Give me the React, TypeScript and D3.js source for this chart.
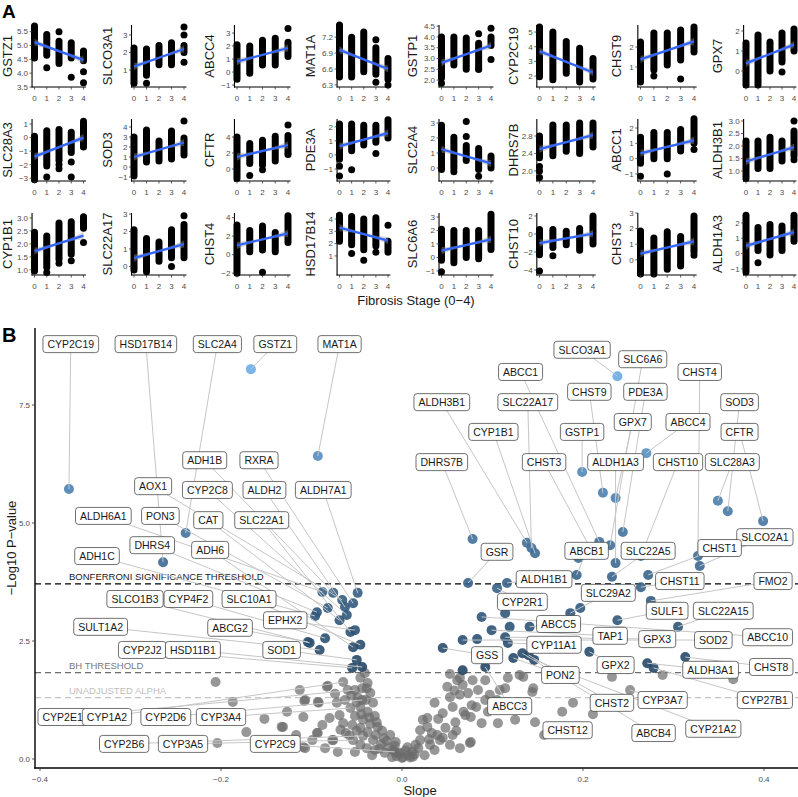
import React, { useEffect, useRef } from "react";
import * as d3 from "d3";

const W = 798, H = 797;
const FONT = "'Liberation Sans', Arial, Helvetica, sans-serif";

// ---------- Panel A data ----------
const stages = [0, 1, 2, 3, 4];
const panelGenes = ["GSTZ1","SLCO3A1","ABCC4","MAT1A","GSTP1","CYP2C19","CHST9","GPX7",
  "SLC28A3","SOD3","CFTR","PDE3A","SLC2A4","DHRS7B","ABCC1","ALDH3B1",
  "CYP1B1","SLC22A17","CHST4","HSD17B14","SLC6A6","CHST10","CHST3","ALDH1A3"];
const panelDomains: [number, number][] = [
  [3.5,5.74],[0.03,3.57],[-1.15,3.62],[6.26,7.43],[1.68,4.55],[1.26,5.48],[0.0,3.1],[-0.8,2.3],
  [-3.2,1.37],[-1.4,4.8],[-1.5,6.25],[-1.85,2.55],[-0.87,3.27],[1.77,3.19],[-1.46,2.59],[0.6,3.08],
  [0.8,3.19],[-0.49,3.06],[-2.2,4.5],[-0.55,4.49],[-1.3,3.3],[-4.55,2.33],[-0.97,3.0],[-1.4,2.65]];
const panelTicks: number[][] = [
  [3.5,4,4.5,5,5.5],[1,2,3],[-1,0,1,2,3],[6.3,6.6,6.9,7.2],[2,2.5,3,3.5,4,4.5],[2,3,4,5],[1,2],[0,1,2],
  [-3,-2,-1,0,1],[-1,0,1,2,3,4],[0,2,4],[-1,0,1,2],[0,1,2,3],[2.0,2.4,2.8],[-1,0,1,2],[1,1.5,2,2.5,3],
  [1,1.5,2,2.5,3],[0,1,2,3],[-2,0,2,4],[1,2,3,4],[-1,0,1,2,3],[-4,-2,0,2],[0,1,2,3],[-1,0,1,2]];
const panelRanges: [number, number][][] = [
  [[4.55,5.7],[4.65,5.4],[4.35,5.15],[4.55,5.1],[4.45,4.8]],
  [[0.25,2.25],[0.7,2.2],[1.3,2.4],[1.3,2.55],[2.0,2.4]],
  [[-0.55,2.1],[-0.1,2.0],[0.55,2.45],[0.55,2.6],[1.2,2.3]],
  [[6.45,7.43],[6.45,7.2],[6.55,7.3],[6.5,7.0],[6.4,6.8]],
  [[2.1,4.0],[2.7,4.0],[2.5,3.95],[2.5,3.7],[3.6,4.0]],
  [[1.95,5.35],[1.75,5.0],[2.2,4.35],[1.6,3.9],[1.8,3.2]],
  [[0.25,2.25],[0.85,2.7],[1.1,2.7],[1.35,2.85],[1.75,3.0]],
  [[-0.7,1.4],[-0.7,1.8],[0.0,1.45],[0.45,1.9],[1.0,2.1]],
  [[-3.1,0.1],[-2.1,0.5],[-1.7,0.6],[-1.1,0.4],[-0.7,1.2]],
  [[-0.9,3.0],[0.5,3.7],[0.6,2.6],[0.8,3.6],[1.2,2.9]],
  [[-1.2,4.0],[0.7,3.2],[0.5,3.6],[1.0,4.1],[2.0,4.2]],
  [[-0.3,2.2],[0.3,2.2],[0.7,2.1],[0.9,2.1],[1.2,2.5]],
  [[-0.1,2.85],[-0.05,2.05],[0.5,1.5],[-0.1,1.3],[0.0,0.8]],
  [[2.3,2.8],[2.35,3.05],[2.45,3.05],[2.4,3.1],[2.55,3.1]],
  [[-0.3,1.4],[0.0,1.7],[0.0,1.7],[0.5,1.9],[1.0,2.6]],
  [[0.7,2.2],[1.1,2.2],[1.1,2.35],[1.4,2.2],[1.6,2.6]],
  [[0.95,2.45],[1.1,2.3],[1.4,2.8],[1.6,2.85],[2.6,3.05]],
  [[-0.2,2.1],[-0.3,1.6],[0.3,1.4],[0.5,2.1],[0.5,2.4]],
  [[-2.0,3.2],[0.3,2.6],[0.5,3.1],[0.3,2.4],[1.3,4.2]],
  [[2.2,4.3],[1.9,4.2],[1.5,4.0],[1.8,4.1],[1.3,2.2]],
  [[-0.2,2.1],[-0.4,2.0],[0.0,2.0],[-0.1,2.0],[0.6,3.2]],
  [[-2.3,0.5],[-1.5,0.5],[-1.2,0.3],[-1.8,0.6],[-1.1,2.0]],
  [[-0.9,1.85],[-0.9,1.4],[-0.6,1.8],[-0.3,1.5],[0.5,2.8]],
  [[-1.2,2.5],[0.2,1.7],[-0.1,1.9],[0.2,1.8],[0.8,2.5]]];
const panelExtras: [number, number][][] = [
  [[1,4.2],[2,5.5],[3,3.85],[4,4.05],[4,3.65]],
  [[1,0.25],[4,3.45],[4,3.0],[4,1.45]],
  [[4,3.35]],
  [[3,7.15],[3,6.35],[4,6.3]],
  [[0,1.85],[3,4.15],[3,2.5],[4,4.4],[4,2.95]],
  [],
  [[1,0.55],[3,0.4]],
  [[3,-0.05]],
  [[1,-2.9],[2,-2.0],[2,-2.3],[3,-1.8],[3,-2.9],[4,-0.6]],
  [[4,4.6]],
  [[1,-0.8],[2,-0.1],[4,5.5],[4,1.8]],
  [[0,-0.8],[0,-1.5],[1,-1.05],[3,0.1]],
  [[1,-0.25],[2,3.1],[2,2.1],[3,-0.55]],
  [[0,2.1],[0,1.85],[0,2.0]],
  [[0,-1.15],[2,-1.0],[4,0.6]],
  [[4,3.0],[4,1.45]],
  [[1,0.9],[2,1.25],[3,1.35],[4,2.05]],
  [[3,0.0],[4,2.9]],
  [[2,-1.9]],
  [[1,1.2],[2,0.65],[3,1.3],[4,3.5]],
  [[0,-1.05]],
  [[0,-4.1],[1,-2.4]],
  [[3,-0.4],[4,0.3]],
  [[1,-0.6]]];
const panelFits: [number, number][] = [
  [5.12,4.47],[1.2,2.2],[0.8,1.85],[6.96,6.6],[2.8,3.6],[3.7,2.25],[1.38,2.28],[0.38,1.32],
  [-1.4,0.0],[1.0,2.45],[1.5,3.0],[0.62,1.55],[1.25,0.3],[2.5,2.82],[0.35,1.2],[1.38,1.95],
  [1.72,2.32],[0.48,1.28],[1.0,2.3],[3.3,2.25],[0.5,1.35],[-1.0,0.05],[0.4,1.18],[0.5,1.4]];

// ---------- Panel B data ----------
const bonferroni = 3.71;
const bhThreshold = 1.83;
const unadjustedAlpha = 1.301;
const xTicksB = [-0.4, -0.2, 0, 0.2, 0.4];
const yTicksB = [0, 2.5, 5, 7.5];

const grayPoints: [number, number][] = [
  [-0.041,1.82],[-0.046,1.72],[-0.038,1.61],[-0.044,1.50],[-0.035,1.40],[-0.049,1.31],[-0.040,1.25],
  [-0.032,1.19],[-0.046,1.10],[-0.038,1.00],[-0.030,0.91],[-0.052,0.91],[-0.043,0.83],[-0.035,0.74],
  [-0.027,0.68],[-0.046,0.66],[-0.038,0.57],[-0.029,0.51],[-0.020,0.44],[-0.032,0.40],[-0.023,0.32],
  [-0.015,0.25],[-0.010,0.19],[-0.004,0.11],[0.001,0.04],[0.007,0.08],[-0.007,0.36],[-0.013,0.51],
  [-0.055,0.72],[-0.062,0.55],[-0.046,0.30],[-0.039,0.23],[-0.030,0.19],[-0.019,0.13],[-0.011,0.04],
  [-0.063,1.25],[-0.072,1.19],[-0.083,1.53],[-0.093,1.21],[-0.107,1.25],[-0.065,0.76],[-0.077,0.40],
  [-0.094,0.55],[-0.107,0.23],[-0.1315,0.68],[-0.127,1.00],[-0.109,0.89],[-0.069,0.93],[-0.060,1.46],
  [-0.074,1.38],[-0.080,0.87],[-0.088,0.72],[-0.099,0.40],[-0.117,0.51],[-0.124,0.34],[-0.085,0.23],
  [-0.071,0.15],[-0.052,0.15],[-0.033,0.08],
  [-0.206,1.63],[-0.187,1.21],[-0.172,0.57],[-0.204,0.34],[-0.152,0.85],[-0.133,0.68],[-0.108,1.23],
  [-0.092,1.19],[-0.082,1.55],[-0.093,0.55],[-0.076,0.40],[-0.109,0.25],[-0.113,1.46],
  [0.011,0.15],[0.020,0.40],[0.023,0.83],[0.028,0.68],[0.039,0.51],[0.045,0.97],[0.056,1.10],
  [0.050,1.53],[0.061,1.67],[0.067,1.57],[0.078,1.67],[0.077,1.14],[0.088,0.76],[0.075,0.34],
  [0.064,0.23],[0.053,0.30],[0.042,0.40],[0.031,0.30],[0.018,0.23],[0.025,0.08],[0.036,0.19],
  [0.048,0.66],[0.059,0.78],[0.070,0.93],[0.064,1.36],[0.053,1.31],[0.073,1.40],[0.084,1.46],
  [0.092,1.67],[0.097,1.36],[0.095,1.00],[0.105,1.25],[0.114,1.50],[0.106,0.76],[0.125,0.83],
  [0.134,1.74],[0.144,1.42],[0.147,0.78],[0.076,0.89],[0.076,0.36],[0.056,0.51],[0.036,1.19],
  [0.028,0.87],[0.020,0.61],[0.033,0.55],[0.006,0.25],[0.117,1.72],[0.145,1.50],[0.108,1.46],
  [0.092,1.25],[0.189,1.19],[0.177,1.00],[0.211,0.95],[0.232,1.74],[0.288,1.78],[0.366,1.69],
  [0.130,1.78],[0.053,1.80],[0.064,1.72],
  [0.000,0.02],[-0.006,0.06],[0.009,0.03],[0.014,0.10],[-0.002,0.13],[0.004,0.18],
  [-0.050,1.20],[-0.045,0.95],[-0.036,0.88],[-0.028,0.78],[-0.022,0.60],[-0.017,0.38],[-0.025,0.22],
  [-0.058,0.50],[-0.068,0.62],[-0.050,0.60],[-0.056,1.35],[-0.039,1.50],[0.015,0.30],[0.030,0.42],
  [0.045,0.45],[0.060,0.60],[0.068,1.00],[0.082,1.10],[0.058,1.45],[0.040,0.85],[0.012,0.05],[-0.008,0.28]];

const extraSigPoints: [number, number][] = [
  [0.195,4.26],[0.197,3.20],[0.114,3.09],[0.119,2.80],[0.083,2.54],[0.067,1.88]];

const labelGenes = [
  "CYP2C19","HSD17B14","SLC2A4","GSTZ1","MAT1A","ADH1B","RXRA","AOX1","CYP2C8","ALDH2","ALDH7A1",
  "ALDH6A1","PON3","CAT","SLC22A1","DHRS4","ADH6","ADH1C","SLCO1B3","CYP4F2","SLC10A1","EPHX2",
  "SULT1A2","ABCG2","CYP2J2","HSD11B1","SOD1","CYP2E1","CYP1A2","CYP2D6","CYP3A4","CYP2B6","CYP3A5","CYP2C9",
  "SLCO3A1","SLC6A6","ABCC1","CHST4","CHST9","PDE3A","ALDH3B1","SLC22A17","SOD3","GPX7","ABCC4",
  "CYP1B1","GSTP1","CFTR","DHRS7B","CHST3","ALDH1A3","CHST10","SLC28A3","SLCO2A1","CHST1","GSR",
  "ABCB1","SLC22A5","ALDH1B1","CHST11","FMO2","SLC29A2","CYP2R1","SULF1","SLC22A15","ABCC5","TAP1",
  "GPX3","SOD2","ABCC10","CYP11A1","GSS","GPX2","CHST8","ALDH3A1","PON2","CHST2","CYP3A7","CYP27B1",
  "ABCC3","CHST12","ABCB4","CYP21A2"];
const labelPoints: [number, number][] = [
  [-0.368,5.72],[-0.264,4.17],[-0.239,4.79],[-0.167,8.26],[-0.093,6.42],[-0.076,3.52],[-0.054,3.30],
  [-0.066,3.37],[-0.061,3.05],[-0.063,3.22],[-0.049,3.52],[-0.088,3.54],[-0.082,3.20],[-0.069,2.94],
  [-0.057,2.69],[-0.094,3.11],[-0.054,2.37],[-0.096,3.03],[-0.102,2.46],[-0.085,2.56],[-0.046,2.42],
  [-0.052,2.73],[-0.091,2.31],[-0.104,2.48],[-0.055,1.93],[-0.044,1.95],[-0.050,2.10],[-0.052,1.46],
  [-0.065,1.63],[-0.044,1.25],[-0.057,1.08],[-0.043,0.49],[-0.054,0.40],[-0.008,0.15],
  [0.238,8.11],[0.230,4.53],[0.218,4.60],[0.327,4.30],[0.222,5.64],[0.244,4.81],[0.138,4.58],
  [0.143,4.47],[0.360,5.25],[0.236,5.53],[0.270,6.48],[0.147,4.36],[0.199,6.08],[0.399,5.04],
  [0.078,4.66],[0.208,4.47],[0.236,4.15],[0.264,4.30],[0.349,5.47],[0.329,4.09],[0.272,3.90],
  [0.073,3.73],[0.193,3.90],[0.232,3.86],[0.116,3.73],[0.264,3.64],[0.275,3.35],[0.186,3.09],
  [0.105,3.62],[0.238,2.94],[0.305,2.80],[0.141,2.80],[0.099,2.73],[0.114,2.58],[0.067,2.52],
  [0.088,3.01],[0.117,2.46],[0.045,2.35],[0.207,2.27],[0.313,2.16],[0.271,2.03],[0.123,2.14],
  [0.140,2.20],[0.252,1.46],[0.278,1.93],[0.092,1.95],[0.157,0.51],[0.133,2.24],[0.146,2.10]];
const labelBoxes: [number, number][] = [
  [-0.366,8.79],[-0.283,8.79],[-0.204,8.79],[-0.140,8.79],[-0.069,8.79],[-0.218,6.33],[-0.158,6.33],
  [-0.275,5.78],[-0.215,5.70],[-0.152,5.70],[-0.087,5.70],[-0.330,5.15],[-0.267,5.15],[-0.214,5.06],
  [-0.155,5.06],[-0.276,4.53],[-0.212,4.43],[-0.337,4.30],[-0.295,3.39],[-0.236,3.39],[-0.169,3.39],
  [-0.129,2.94],[-0.333,2.80],[-0.190,2.78],[-0.287,2.31],[-0.231,2.31],[-0.133,2.31],[-0.375,0.89],
  [-0.326,0.89],[-0.261,0.89],[-0.200,0.89],[-0.307,0.32],[-0.242,0.32],[-0.140,0.32],
  [0.199,8.67],[0.266,8.47],[0.131,8.20],[0.329,8.20],[0.207,7.78],[0.269,7.78],[0.044,7.56],
  [0.139,7.56],[0.373,7.56],[0.255,7.14],[0.316,7.14],[0.101,6.93],[0.199,6.93],[0.373,6.93],
  [0.044,6.29],[0.157,6.29],[0.236,6.29],[0.305,6.29],[0.365,6.29],[0.401,4.70],[0.351,4.47],
  [0.105,4.39],[0.204,4.41],[0.272,4.41],[0.157,3.81],[0.307,3.77],[0.410,3.77],[0.228,3.52],
  [0.133,3.33],[0.293,3.14],[0.355,3.14],[0.173,2.86],[0.230,2.61],[0.282,2.54],[0.344,2.52],
  [0.404,2.58],[0.168,2.42],[0.094,2.20],[0.236,1.99],[0.408,1.95],[0.341,1.89],[0.175,1.78],
  [0.232,1.19],[0.288,1.25],[0.401,1.25],[0.119,1.12],[0.183,0.61],[0.278,0.55],[0.344,0.64]];

// ---------- layout ----------
const colStageX: [number, number][] = [[34.5,83.5],[134,184],[237,288],[339.5,388],[441.5,491],[539.5,593],[640.5,694],[746,794]];
const colTitleX = [7, 107, 209, 310.5, 412, 513, 616, 717];
const rowTops = [25, 119, 213];
const PANEL_H = 62;

function drawPanels(svg: d3.Selection<SVGSVGElement, unknown, null, undefined>) {
  const g = svg.append("g");
  panelGenes.forEach((gene, i) => {
    const c = i % 8, r = Math.floor(i / 8);
    const x = d3.scaleLinear().domain([0, 4]).range(colStageX[c]);
    const left = x(-0.2), right = x(4.2);
    const top = rowTops[r], bottom = top + PANEL_H;
    const y = d3.scaleLinear().domain(panelDomains[i]).range([bottom, top]);
    const pg = g.append("g");
    pg.selectAll("line.col").data(panelRanges[i]).join("line")
      .attr("x1", (_d, k) => x(stages[k])).attr("x2", (_d, k) => x(stages[k]))
      .attr("y1", d => y(d[0])).attr("y2", d => y(d[1]))
      .attr("stroke", "#000").attr("stroke-width", 7).attr("stroke-linecap", "round");
    pg.selectAll("circle").data(panelExtras[i]).join("circle")
      .attr("cx", d => x(d[0])).attr("cy", d => y(d[1])).attr("r", 3.5).attr("fill", "#000");
    const [f0, f4] = panelFits[i];
    const span = panelDomains[i][1] - panelDomains[i][0];
    const fit = (s: number) => f0 + (f4 - f0) * s / 4;
    const half = (s: number) => span * (0.018 + 0.04 * ((s - 2) / 2) ** 2);
    const grid = d3.range(0, 4.01, 0.1);
    const area = d3.area<number>().x(s => x(s)).y0(s => y(fit(s) - half(s))).y1(s => y(fit(s) + half(s)));
    pg.append("path").attr("d", area(grid)).attr("fill", "#999").attr("opacity", 0.4);
    pg.append("line").attr("x1", x(0)).attr("x2", x(4)).attr("y1", y(f0)).attr("y2", y(f4))
      .attr("stroke", "#3366FF").attr("stroke-width", 2.3);
    pg.append("line").attr("x1", left).attr("x2", left).attr("y1", top).attr("y2", bottom + 0.5)
      .attr("stroke", "#000").attr("stroke-width", 1.1);
    pg.append("line").attr("x1", left - 0.5).attr("x2", right).attr("y1", bottom).attr("y2", bottom)
      .attr("stroke", "#000").attr("stroke-width", 1.1);
    const ticks = panelTicks[i].filter(t => t >= panelDomains[i][0] - 1e-9 && t <= panelDomains[i][1] + 1e-9);
    const fmt = ticks.some(t => Math.abs(t - Math.round(t)) > 1e-9) ? d3.format(".1f") : d3.format("d");
    ticks.forEach(t => {
      pg.append("line").attr("x1", left - 2.5).attr("x2", left).attr("y1", y(t)).attr("y2", y(t))
        .attr("stroke", "#333").attr("stroke-width", 0.8);
      pg.append("text").attr("x", left - 4).attr("y", y(t)).attr("dy", "0.35em")
        .attr("text-anchor", "end").attr("font-size", 8).attr("fill", "#4d4d4d")
        .text(fmt(t).replace("-", "\u2212"));
    });
    stages.forEach(s => {
      pg.append("line").attr("x1", x(s)).attr("x2", x(s)).attr("y1", bottom).attr("y2", bottom + 2.5)
        .attr("stroke", "#333").attr("stroke-width", 0.8);
      pg.append("text").attr("x", x(s)).attr("y", bottom + 11).attr("dy", "0.35em")
        .attr("text-anchor", "middle").attr("font-size", 8).attr("fill", "#4d4d4d").text(String(s));
    });
    pg.append("text").attr("transform", `translate(${colTitleX[c]},${(top + bottom) / 2}) rotate(-90)`)
      .attr("dy", "0.35em").attr("text-anchor", "middle").attr("font-size", 13).attr("fill", "#1a1a1a")
      .text(gene);
  });
  g.append("text").attr("x", 416).attr("y", 300).attr("dy", "0.35em").attr("text-anchor", "middle")
    .attr("font-size", 13).attr("fill", "#1a1a1a").text("Fibrosis Stage (0\u22124)");
  g.append("text").attr("x", 2).attr("y", 18).attr("font-size", 19).attr("font-weight", "bold").text("A");
}

function drawVolcano(svg: d3.Selection<SVGSVGElement, unknown, null, undefined>) {
  const g = svg.append("g");
  const vx = d3.scaleLinear().domain([-0.4, 0.4]).range([40, 764]);
  const vy = d3.scaleLinear().domain([0, 7.5]).range([759, 405]);
  const L = 35, R = 798, T = 328, B = 768;
  const sigColor = d3.scaleLinear<string>().domain([0, 8.3]).range(["#132B43", "#6aaee8"]).interpolate(d3.interpolateLab);

  const thr = [
    { v: bonferroni, color: "#000", dash: "6,4", w: 1.4, text: "BONFERRONI SIGNIFICANCE THRESHOLD", tc: "#1a1a1a" },
    { v: bhThreshold, color: "#6e6e6e", dash: "6,4", w: 1.2, text: "BH THRESHOLD", tc: "#7a7a7a" },
    { v: unadjustedAlpha, color: "#c4c4c4", dash: "6,4", w: 1.2, text: "UNADJUSTED ALPHA", tc: "#c0c0c0" },
  ];
  thr.forEach(t => {
    g.append("line").attr("x1", L).attr("x2", R).attr("y1", vy(t.v)).attr("y2", vy(t.v))
      .attr("stroke", t.color).attr("stroke-width", t.w).attr("stroke-dasharray", t.dash);
  });

  const allPts: { s: number; v: number; sig: boolean }[] = [];
  grayPoints.forEach(p => allPts.push({ s: p[0], v: p[1], sig: p[1] > bhThreshold }));
  extraSigPoints.forEach(p => allPts.push({ s: p[0], v: p[1], sig: p[1] > bhThreshold }));
  labelPoints.forEach(p => allPts.push({ s: p[0], v: p[1], sig: p[1] > bhThreshold }));
  const grays = allPts.filter(p => !p.sig);
  const sigs = allPts.filter(p => p.sig).sort((a, b) => a.v - b.v);

  g.append("g").selectAll("circle").data(grays).join("circle")
    .attr("cx", d => vx(d.s)).attr("cy", d => vy(d.v)).attr("r", 5)
    .attr("fill", "#6b6b6b").attr("fill-opacity", 0.7);
  g.append("g").selectAll("circle").data(sigs).join("circle")
    .attr("cx", d => vx(d.s)).attr("cy", d => vy(d.v)).attr("r", 5)
    .attr("fill", d => sigColor(d.v)).attr("fill-opacity", 0.9);

  thr.forEach(t => {
    g.append("text").attr("x", 69).attr("y", vy(t.v) - 4).attr("font-size", 9.5).attr("fill", t.tc).text(t.text);
  });

  g.append("g").selectAll("line").data(labelGenes.map((_n, i) => i)).join("line")
    .attr("x1", i => vx(labelBoxes[i][0])).attr("y1", i => vy(labelBoxes[i][1]))
    .attr("x2", i => vx(labelPoints[i][0])).attr("y2", i => vy(labelPoints[i][1]))
    .attr("stroke", "#c6c6c6").attr("stroke-width", 1);

  const lg = g.append("g");
  labelGenes.forEach((name, i) => {
    const cx = vx(labelBoxes[i][0]), cy = vy(labelBoxes[i][1]);
    const grp = lg.append("g");
    const rect = grp.append("rect");
    const txt = grp.append("text").attr("x", cx).attr("y", cy).attr("dy", "0.36em")
      .attr("text-anchor", "middle").attr("font-size", 10.5).attr("fill", "#1a1a1a").text(name);
    const tw = (txt.node() as SVGTextElement).getComputedTextLength();
    const w = tw + 9, h = 17;
    rect.attr("x", cx - w / 2).attr("y", cy - h / 2).attr("width", w).attr("height", h)
      .attr("rx", 3).attr("fill", "#fff").attr("stroke", "#333").attr("stroke-width", 0.7);
  });

  g.append("line").attr("x1", L).attr("x2", L).attr("y1", T).attr("y2", B + 0.7).attr("stroke", "#000").attr("stroke-width", 1.4);
  g.append("line").attr("x1", L - 0.7).attr("x2", R).attr("y1", B).attr("y2", B).attr("stroke", "#000").attr("stroke-width", 1.4);
  yTicksB.forEach(t => {
    g.append("line").attr("x1", L - 3).attr("x2", L).attr("y1", vy(t)).attr("y2", vy(t)).attr("stroke", "#333").attr("stroke-width", 0.8);
    g.append("text").attr("x", L - 5).attr("y", vy(t)).attr("dy", "0.35em").attr("text-anchor", "end")
      .attr("font-size", 8).attr("fill", "#4d4d4d").text(d3.format(".1f")(t));
  });
  xTicksB.forEach(t => {
    g.append("line").attr("x1", vx(t)).attr("x2", vx(t)).attr("y1", B).attr("y2", B + 3).attr("stroke", "#333").attr("stroke-width", 0.8);
    g.append("text").attr("x", vx(t)).attr("y", B + 11).attr("dy", "0.35em").attr("text-anchor", "middle")
      .attr("font-size", 8).attr("fill", "#4d4d4d").text(d3.format(".1f")(t));
  });
  g.append("text").attr("x", 420).attr("y", 790).attr("dy", "0.35em").attr("text-anchor", "middle")
    .attr("font-size", 13).attr("fill", "#1a1a1a").text("Slope");
  g.append("text").attr("transform", `translate(11,${(T + B) / 2}) rotate(-90)`).attr("dy", "0.35em")
    .attr("text-anchor", "middle").attr("font-size", 13).attr("fill", "#1a1a1a").text("\u2212Log10 P\u2212value");
  g.append("text").attr("x", 2).attr("y", 342).attr("font-size", 20).attr("font-weight", "bold").text("B");
}

export default function App() {
  const ref = useRef<SVGSVGElement>(null);
  useEffect(() => {
    if (!ref.current) return;
    const svg = d3.select(ref.current);
    svg.selectAll("*").remove();
    svg.append("rect").attr("width", W).attr("height", H).attr("fill", "#fff");
    drawPanels(svg);
    drawVolcano(svg);
  }, []);
  return (
    <svg ref={ref} width={W} height={H} fontFamily={FONT}
      style={{ position: "absolute", left: 0, top: 0, display: "block" }} />
  );
}
